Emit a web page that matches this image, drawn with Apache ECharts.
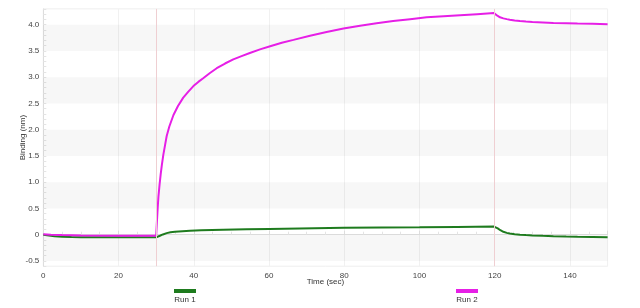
<!DOCTYPE html>
<html><head><meta charset="utf-8">
<script src="https://cdn.jsdelivr.net/npm/echarts@6/dist/echarts.min.js"></script>
<style>html,body{margin:0;padding:0;background:#fff}#c{width:640px;height:308px}</style>
</head><body><div id="c"></div>
<script>
var run1Time = [0,1,2,3,5,7.5,10,15,20,25,30,30.5,31,31.8,32.8,33.8,35,37,39,42,47.8,54,60,68.2,80,90,100,110,119.8,120.3,120.8,121.5,122.3,123.2,124,125.3,126.7,128.3,130,132.8,135.6,139,142,146,150];
var run1Val  = [0,-0.01,-0.02,-0.03,-0.04,-0.045,-0.047,-0.05,-0.05,-0.05,-0.05,-0.035,-0.02,0.005,0.03,0.045,0.055,0.067,0.076,0.085,0.095,0.103,0.11,0.12,0.13,0.135,0.14,0.148,0.155,0.145,0.12,0.085,0.055,0.035,0.022,0.01,0.0,-0.008,-0.014,-0.022,-0.028,-0.035,-0.04,-0.045,-0.05];
var run2Time = [0,2,5,10,20,30,30.2,30.4,30.6,30.9,31.2,31.5,31.9,32.4,32.8,33.5,34.6,35.8,37.2,38.5,39.9,41.2,42.5,44.3,46.1,48.3,50.5,52.7,54.9,57.6,60.3,63.4,66.5,70.9,75.3,79.8,84.2,88.6,93,97.5,101.9,106.4,110.8,115.3,119.8,120.2,120.7,121.4,122.3,123.2,124,125.3,126.7,128.3,130,132.8,135.6,139,142,146,150];
var run2Val  = [0.01,0.0,-0.008,-0.015,-0.02,-0.02,0.25,0.5,0.72,0.95,1.15,1.32,1.52,1.72,1.88,2.06,2.28,2.45,2.61,2.72,2.83,2.91,2.98,3.08,3.17,3.26,3.34,3.40,3.46,3.53,3.59,3.655,3.71,3.79,3.86,3.925,3.98,4.025,4.07,4.105,4.14,4.16,4.18,4.20,4.22,4.20,4.17,4.14,4.12,4.105,4.095,4.08,4.07,4.06,4.05,4.04,4.03,4.025,4.02,4.015,4.01];
var stepTimes = [30,120];
var shadedBands = [[-0.5,0],[0.5,1],[1.5,2],[2.5,3],[3.5,4]];
var seriesNames = ['Run 1','Run 2'];
var colors = ['#1e7b1e','#e61fe6'];

function zip(a,b){return a.map(function(x,i){return [x,b[i]];});}
var chart = echarts.init(document.getElementById('c'));
var font = 'Liberation Sans, Arial, sans-serif';
function legendCfg(i,left){
  return {data:[seriesNames[i]],left:left,top:285,icon:'none',itemWidth:0,itemGap:0,padding:0,
    formatter:function(n){return '{b|}\n{t|'+n+'}';},
    textStyle:{rich:{b:{width:22,height:4,backgroundColor:colors[i],align:'center'},
                     t:{fontSize:8,color:'#333',align:'center',padding:[3,0,0,0]}}}};
}
chart.setOption({
  animation:false,
  textStyle:{fontFamily:font},
  grid:{left:43.3,right:32.4,top:8.9,bottom:41.8,show:true,borderColor:'#eeeeee',borderWidth:1},
  xAxis:{type:'value',min:0,max:150,interval:20,
    name:'Time (sec)',nameLocation:'middle',nameGap:12,nameMoveOverlap:false,
    nameTextStyle:{fontSize:8,color:'#333'},
    axisLine:{lineStyle:{color:'#dddddd'}},
    axisTick:{inside:true,length:4,lineStyle:{color:'#dddddd'}},
    minorTick:{show:true,splitNumber:4,length:3,lineStyle:{color:'#e4e4e4'}},
    axisLabel:{fontSize:8,color:'#444',margin:6,showMaxLabel:false,
      formatter:function(v){return (v%20===0)?String(v):'';}},
    splitLine:{show:true,lineStyle:{color:'#f1f1f1'}}
  },
  yAxis:{type:'value',min:-0.6,max:4.3,interval:0.1,
    name:'Binding (nm)',nameLocation:'middle',nameGap:17,nameMoveOverlap:false,
    nameTextStyle:{fontSize:8,color:'#333'},
    axisLine:{show:true,lineStyle:{color:'#dddddd'}},
    axisTick:{show:true,inside:true,length:3,lineStyle:{color:'#e4e4e4'}},
    axisLabel:{fontSize:8,color:'#444',margin:4,
      formatter:function(v){var r=Math.round(v*2)/2; if(Math.abs(r-v)>1e-6) return ''; return r===0?'0':r.toFixed(1);}},
    splitLine:{show:false},
    splitArea:{show:false}
  },
  legend:[legendCfg(0,169),legendCfg(1,451)],
  series:[
    {name:seriesNames[0],type:'line',data:zip(run1Time,run1Val),showSymbol:false,smooth:false,
     lineStyle:{color:colors[0],width:2},itemStyle:{color:colors[0]},z:3,
     markArea:{silent:true,itemStyle:{color:'rgba(0,0,0,0.03)'},
       data:shadedBands.map(function(b){return [{yAxis:b[0]},{yAxis:b[1]}];})},
     markLine:{silent:true,symbol:'none',label:{show:false},lineStyle:{color:'#efcfd2',width:1,type:'solid'},
       data:stepTimes.map(function(t){return {xAxis:t};})}},
    {name:seriesNames[1],type:'line',data:zip(run2Time,run2Val),showSymbol:false,smooth:false,
     lineStyle:{color:colors[1],width:2},itemStyle:{color:colors[1]},z:4}
  ]
});
</script></body></html>
